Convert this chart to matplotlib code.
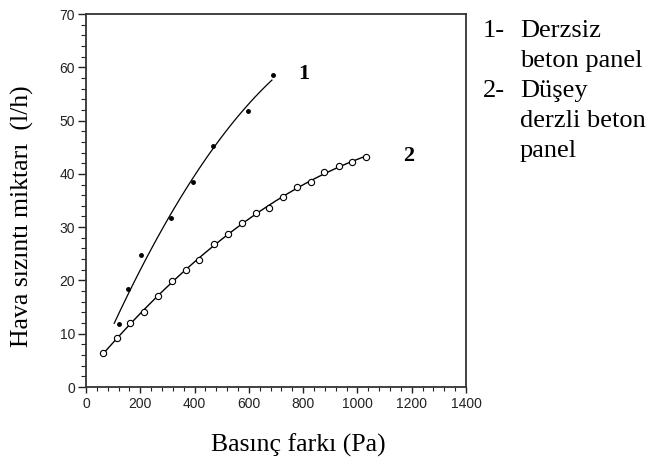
import matplotlib
matplotlib.use('Agg')
import matplotlib.pyplot as plt
from matplotlib.ticker import MultipleLocator
import numpy as np

# series 1: Derzsiz beton panel (filled dots)
x1 = [123, 155, 203, 313, 395, 467, 596, 688]
y1 = [11.8, 18.3, 24.8, 31.8, 38.5, 45.3, 51.8, 58.5]
# series 2: Duşey derzli beton panel (open circles)
x2 = [64, 113, 163, 215, 265, 317, 367, 418, 470, 523, 574, 625, 675, 727,
      778, 829, 878, 931, 981, 1032]
y2 = [6.3, 9.2, 12.1, 14.0, 17.0, 19.9, 22.0, 23.9, 26.8, 28.8, 30.7, 32.6,
      33.6, 35.6, 37.6, 38.5, 40.4, 41.5, 42.3, 43.1]

legend_lines = [("1-", "Derzsiz"), ("", "beton panel"), ("2-", "Düşey"),
                ("", "derzli beton"), ("", "panel")]

W, H = 648, 465
fig = plt.figure(figsize=(6.48, 4.65), dpi=100)
ax = fig.add_axes([86 / W, 1 - 387 / H, 380 / W, 373 / H])

# fitted curves
c1 = np.polyfit(x1, y1, 2)
xs1 = np.linspace(104, 685, 100)
ax.plot(xs1, np.polyval(c1, xs1), color='black', lw=0.9)
c2 = np.polyfit(x2, y2, 2)
xs2 = np.linspace(x2[0], x2[-1], 100)
ax.plot(xs2, np.polyval(c2, xs2), color='black', lw=1.0)

ax.plot(x1, y1, 'o', ms=2.5, color='black')
ax.plot(x2, y2, 'o', ms=4.5, mfc='white', mec='black', mew=0.8)

ax.text(802, 58.7, "1", family='Liberation Serif', fontweight='bold',
        fontsize=16, ha='center', va='center')
ax.text(1188, 43.3, "2", family='Liberation Serif', fontweight='bold',
        fontsize=16, ha='center', va='center')

ax.set_xlim(0, 1400)
ax.set_ylim(0, 70)
ax.xaxis.set_major_locator(MultipleLocator(200))
ax.xaxis.set_minor_locator(MultipleLocator(40))
ax.yaxis.set_major_locator(MultipleLocator(10))
ax.yaxis.set_minor_locator(MultipleLocator(2))
ax.tick_params(which='both', color='#222222', labelsize=10,
               labelcolor='#222222')
ax.tick_params(axis='y', which='major', length=6, width=1.0, pad=2)
ax.tick_params(axis='y', which='minor', length=3.5, width=0.8)
ax.tick_params(axis='x', which='major', length=4.5, width=1.0, pad=3)
ax.tick_params(axis='x', which='minor', length=3, width=0.8)
for lab in ax.get_xticklabels() + ax.get_yticklabels():
    lab.set_family('Liberation Sans')
for s in ax.spines.values():
    s.set_linewidth(1.3)
    s.set_color('#333333')

fig.text(298 / W, 1 - 445 / H, "Basınç farkı (Pa)", family='Liberation Serif',
         fontsize=18.5, ha='center', va='center')
fig.text(22 / W, 1 - 216 / H, "Hava sızıntı miktarı  (l/h)",
         family='Liberation Serif', fontsize=18.5, rotation=90,
         ha='center', va='center')

ys = [31, 61, 91, 121, 151]
for (num, txt), yy in zip(legend_lines, ys):
    if num:
        fig.text(483 / W, 1 - yy / H, num, family='Liberation Serif',
                 fontsize=19, va='center')
    fig.text(520 / W, 1 - yy / H, txt, family='Liberation Serif',
             fontsize=19, va='center')

fig.savefig('out.png', dpi=100)
